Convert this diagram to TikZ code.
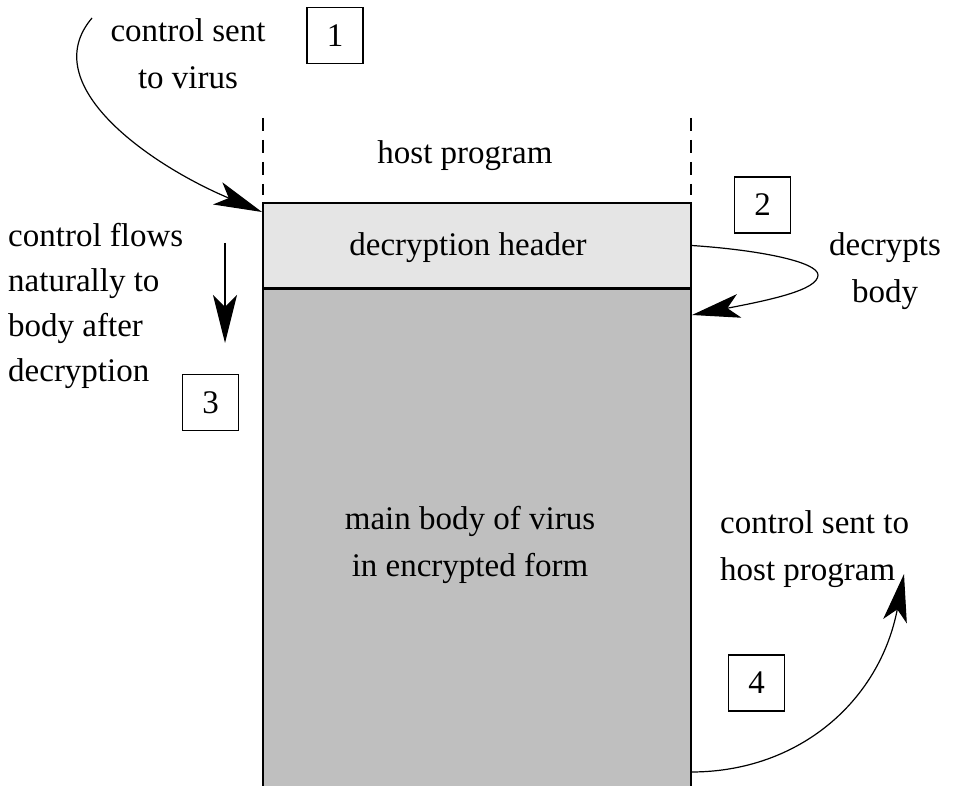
\documentclass[tikz,border=0pt]{standalone}
\usepackage{fontspec}
\setmainfont{Liberation Serif}
\usetikzlibrary{arrows.meta}
\begin{document}
\begin{tikzpicture}[x=1pt,y=-1pt,
  every node/.style={font=\fontsize{33}{47}\selectfont},
  lbl/.style={inner sep=0pt},
  numbox/.style={draw,line width=1.2pt,minimum width=56pt,minimum height=56pt,inner sep=0pt},
  part/.style={draw,line width=1.3pt,minimum width=428pt,inner sep=0pt},
  arr/.style={line width=1.2pt,-{Stealth[length=48pt,width=24pt,inset=12pt]}},
  guide/.style={line width=1.2pt,dash pattern=on 13pt off 9pt}]
\useasboundingbox (0,0) rectangle (955,786);
% main parts
\node[part,fill=black!10,minimum height=85pt] (header) at (477,245.5) {};
\node[lbl] (headtxt) at (468,247.5) {decryption header};
\node[part,fill=black!25,minimum height=497pt,anchor=north] (body) at (header.south) {};
\node[lbl,align=center] (bodytxt) at (470,545) {main body of virus\\in encrypted form};
% dashed guides
\coordinate (g1a) at (263,118); \coordinate (g1b) at (263,195);
\coordinate (g2a) at (691,118); \coordinate (g2b) at (691,195);
\draw[guide] (g1a) -- (g1b);
\draw[guide] (g2a) -- (g2b);
\node[lbl] (host) at (465,156) {host program};
% number boxes
\node[numbox] (n1) at (335,35.5) {1};
\node[numbox] (n2) at (762.5,205) {2};
\node[numbox] (n3) at (210.5,402.5) {3};
\node[numbox] (n4) at (756.5,683) {4};
% labels
\node[lbl,align=center] (t1) at (188,54) {control sent\\to virus};
\node[lbl,align=left,anchor=west,font=\fontsize{33}{45}\selectfont] (t3) at (8,306) {control flows\\naturally to\\body after\\decryption};
\node[lbl,align=center] (t2) at (885,271) {decrypts\\body};
\node[lbl,align=left,anchor=west] (t4) at (720,549) {control sent to\\host program};
% arrows
\coordinate (a1s) at (92,18);
\coordinate (a1e) at (262,212);
\draw[arr] (a1s) .. controls (35,85) and (150,165) .. (a1e);
\coordinate (a2s) at (header.east);
\coordinate (a2m) at (818,275);
\coordinate (a2e) at (692,315);
\draw[arr] (a2s) .. controls (760,250) and (818,262) .. (a2m) .. controls (818,290) and (770,300) .. (a2e);
\coordinate (a3s) at (225,243);
\coordinate (a3e) at (225,343);
\draw[arr] (a3s) -- (a3e);
\coordinate (a4s) at (691,772);
\coordinate (a4e) at (904,574);
\draw[arr] (a4s) .. controls (800,772) and (880,700) .. (a4e);
\end{tikzpicture}
\end{document}
